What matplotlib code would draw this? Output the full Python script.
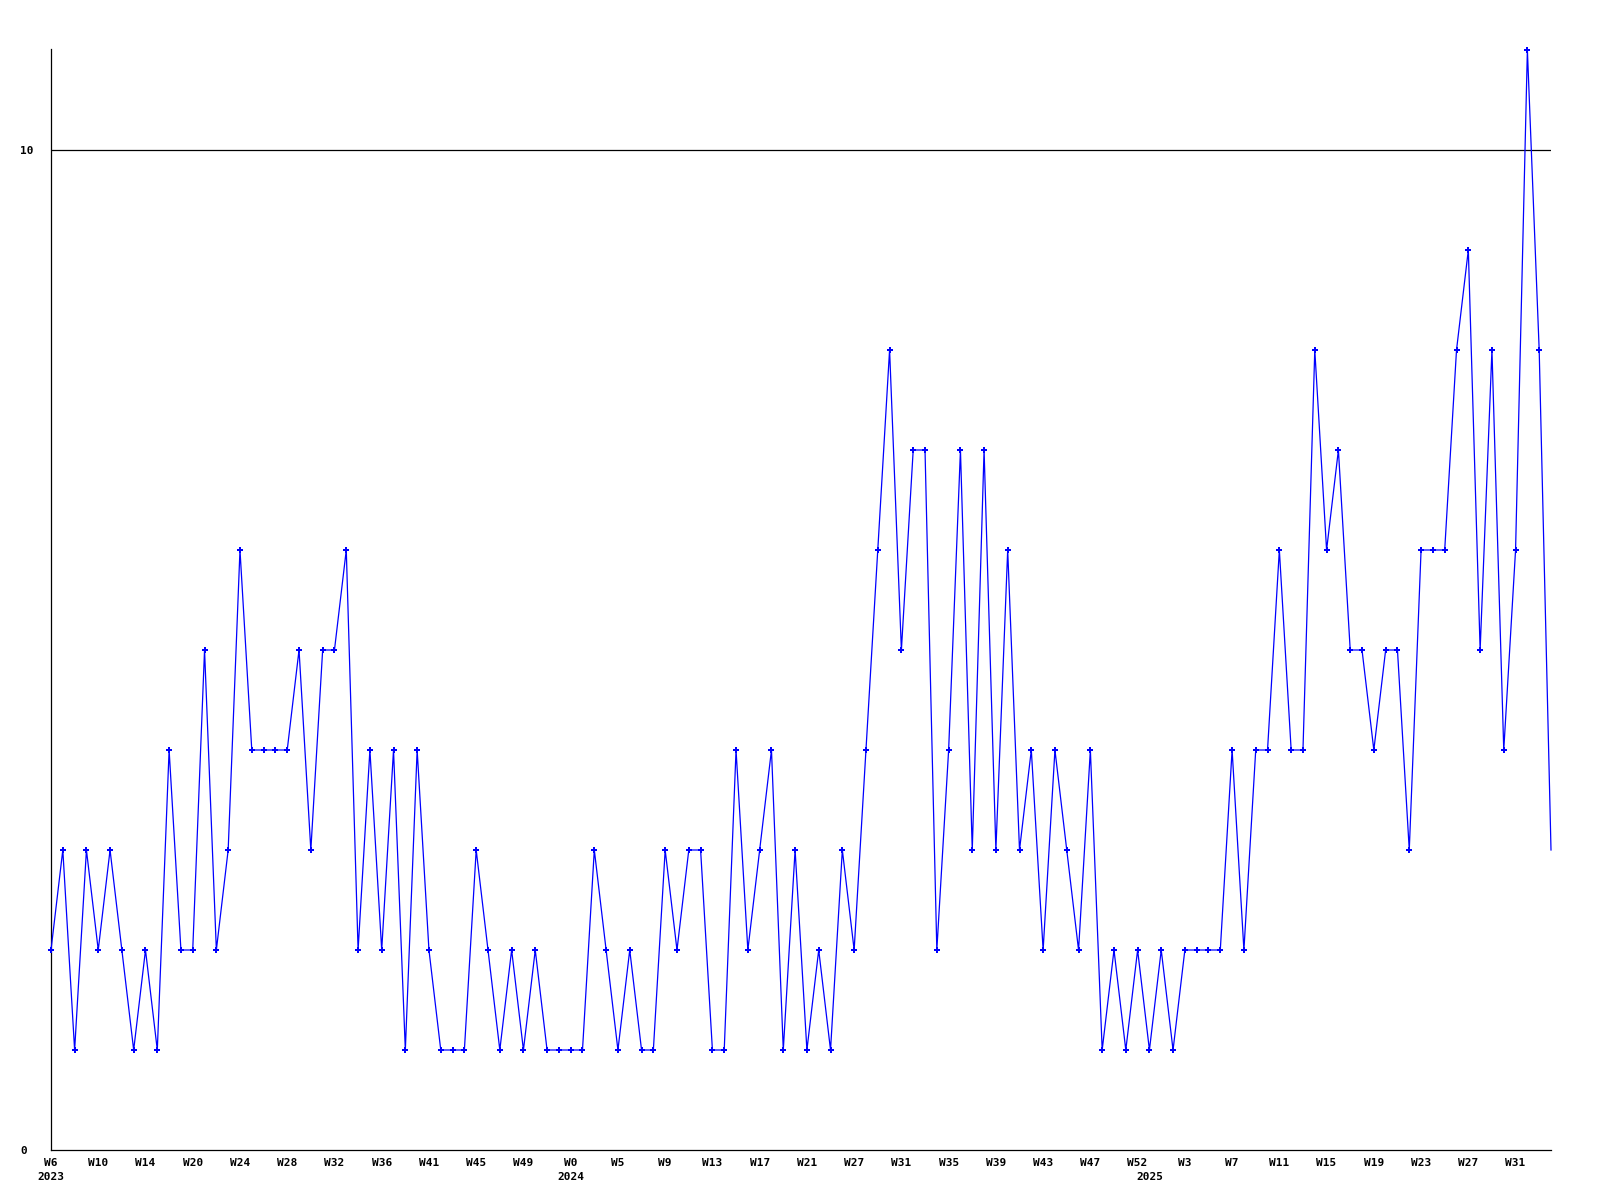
import matplotlib
matplotlib.use("Agg")
import matplotlib.pyplot as plt

# weekly counts, one per week
counts = [2, 3, 1, 3, 2, 3, 2, 1, 2, 1, 4, 2, 2, 5, 2, 3, 6, 4, 4, 4,
          4, 5, 3, 5, 5, 6, 2, 4, 2, 4, 1, 4, 2, 1, 1, 1, 3, 2, 1, 2,
          1, 2, 1, 1, 1, 1, 3, 2, 1, 2, 1, 1, 3, 2, 3, 3, 1, 1, 4, 2,
          3, 4, 1, 3, 1, 2, 1, 3, 2, 4, 6, 8, 5, 7, 7, 2, 4, 7, 3, 7,
          3, 6, 3, 4, 2, 4, 3, 2, 4, 1, 2, 1, 2, 1, 2, 1, 2, 2, 2, 2,
          4, 2, 4, 4, 6, 4, 4, 8, 6, 7, 5, 5, 4, 5, 5, 3, 6, 6, 6, 8,
          9, 5, 8, 4, 6, 11, 8, 3]

week_labels = ["W6", "W10", "W14", "W20", "W24", "W28", "W32", "W36",
               "W41", "W45", "W49", "W0", "W5", "W9", "W13", "W17",
               "W21", "W27", "W31", "W35", "W39", "W43", "W47", "W52",
               "W3", "W7", "W11", "W15", "W19", "W23", "W27", "W31"]
label_every = 4

years = ["2023", "2024", "2025"]
year_pos = [0, 44, 93]

x = list(range(len(counts)))

fig = plt.figure(figsize=(16, 12), dpi=100)
ax = fig.add_axes([51 / 1600, 1 - 1150 / 1200, 1500 / 1600, 1101 / 1200])

ax.plot(x, counts, color="#0000ff", linewidth=0.9, clip_on=False, zorder=3)
ax.plot(x[:-1], counts[:-1], linestyle="none", marker="P", markersize=3.8,
        markeredgewidth=0, color="#0000ff", clip_on=False, zorder=4)

ax.axhline(10, color="black", linewidth=0.9, zorder=1)

ax.set_xlim(0, len(counts) - 1)
ax.set_ylim(0, 11.01)

for s in ["top", "right"]:
    ax.spines[s].set_visible(False)
for s in ["left", "bottom"]:
    ax.spines[s].set_linewidth(0.9)

font = dict(family="DejaVu Sans Mono", weight="bold", size=8)

ax.set_xticks(x[::label_every][:len(week_labels)])
ax.set_xticklabels(week_labels, **font)
ax.tick_params(axis="x", length=0, pad=5.5)

ax.set_yticks([0, 10])
ax.set_yticklabels(["0", "10"], **font)
ax.tick_params(axis="y", length=0, pad=22.3)
for lab in ax.get_yticklabels():
    lab.set_horizontalalignment("left")

for yr, p in zip(years, year_pos):
    ax.annotate(yr, xy=(p, 0), xycoords=("data", "axes fraction"),
                xytext=(0, -15.8), textcoords="offset points",
                ha="center", va="top", **font)

fig.savefig("out.png", dpi=100, facecolor="white")
